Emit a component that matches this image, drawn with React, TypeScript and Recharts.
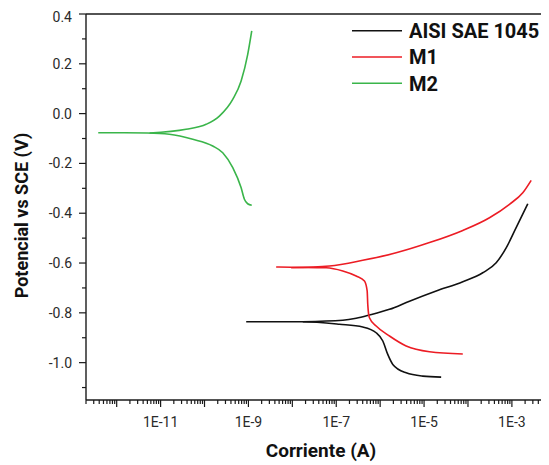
import React from 'react';
import { LineChart, Line, XAxis, YAxis, Legend, ReferenceLine } from 'recharts';

// ---- data: [current (A), potential (V vs SCE)] ----
const aisiCathodic: [number, number][] = [
  [8.9e-10, -0.836], [1.73e-8, -0.836], [1.18e-7, -0.846], [4.02e-7, -0.857], [8.11e-7, -0.880],
  [1.15e-6, -0.913], [1.49e-6, -0.967], [1.94e-6, -1.007], [3.91e-6, -1.041], [9.33e-6, -1.054], [2.45e-5, -1.058],
];
const aisiAnodic: [number, number][] = [
  [1.73e-8, -0.836], [1.41e-7, -0.830], [2.84e-7, -0.822], [5.7e-7, -0.809], [1.63e-6, -0.786],
  [4.66e-6, -0.753], [1.89e-5, -0.712], [7.62e-5, -0.675], [2.17e-4, -0.639], [4.39e-4, -0.599],
  [7.41e-4, -0.539], [1.25e-3, -0.458], [2.3e-3, -0.362],
];
const m1Cathodic: [number, number][] = [
  [4.28e-9, -0.616], [9.4e-9, -0.617], [5.9e-8, -0.619], [1.41e-7, -0.632], [2.84e-7, -0.652],
  [4.39e-7, -0.672], [5.06e-7, -0.712], [5.22e-7, -0.766], [5.7e-7, -0.820], [8.11e-7, -0.853],
  [1.63e-6, -0.893], [3.91e-6, -0.933], [1.33e-5, -0.956], [7.62e-5, -0.965],
];
const m1Anodic: [number, number][] = [
  [9.4e-9, -0.619], [7e-8, -0.612], [4.02e-7, -0.589], [2.31e-6, -0.559], [1.33e-5, -0.518],
  [7.62e-5, -0.469], [3.09e-4, -0.418], [8.81e-4, -0.364], [1.77e-3, -0.318], [2.75e-3, -0.268],
];
const m2Cathodic: [number, number][] = [
  [3.8e-13, -0.077], [1.5e-12, -0.077], [5e-12, -0.078], [1.58e-11, -0.083], [5.4e-11, -0.103],
  [1.54e-10, -0.130], [2.6e-10, -0.157], [4.4e-10, -0.217], [6.8e-10, -0.297], [8.1e-10, -0.344],
  [9.6e-10, -0.362], [1.19e-9, -0.368],
];
const m2Anodic: [number, number][] = [
  [5.6e-12, -0.078], [3.8e-11, -0.063], [1.09e-10, -0.043], [2.18e-10, -0.010], [4.39e-10, 0.057],
  [6.82e-10, 0.131], [9.64e-10, 0.238], [1.19e-9, 0.332],
];

const seriesNames = ['AISI SAE 1045', 'M1', 'M2'];
const seriesColors = ['#111111', '#ec1c24', '#3ab54a'];

// ---- axes ----
const xDomain: [number, number] = [2e-13, 7e-3];
const xDecadeExponents = [-13, -12, -11, -10, -9, -8, -7, -6, -5, -4, -3];
const xLabelledExponents = [-11, -9, -7, -5, -3];
const xTickLabels = ['1E-11', '1E-9', '1E-7', '1E-5', '1E-3'];
const yDomain: [number, number] = [-1.15, 0.4];
const yMajorTicks = [-1.0, -0.8, -0.6, -0.4, -0.2, 0.0, 0.2, 0.4];
const yMinorTicks = [-1.1, -0.9, -0.7, -0.5, -0.3, -0.1, 0.1, 0.3];

const FONT = 'Roboto, "Liberation Sans", sans-serif';
const AXIS = '#1a1a1a';

const toRows = (pts: [number, number][]) => pts.map(([i, e]) => ({ i, e }));

const xTicks: number[] = [];
xDecadeExponents.forEach((ex) => {
  for (let m = 1; m <= 9; m++) {
    const v = m * Math.pow(10, ex);
    if (v >= xDomain[0] * 0.999 && v <= xDomain[1]) xTicks.push(v);
  }
});
const yTicks = [...yMajorTicks, ...yMinorTicks].sort((a, b) => a - b);

const XTick = (props: any) => {
  const { x, y, payload } = props;
  const lg = Math.log10(payload.value);
  const isMajor = Math.abs(lg - Math.round(lg)) < 1e-6;
  const idx = isMajor ? xLabelledExponents.indexOf(Math.round(lg)) : -1;
  return (
    <g>
      <line x1={x} y1={y} x2={x} y2={y + (isMajor ? 7 : 4)} stroke={AXIS} strokeWidth={1.2} />
      {idx >= 0 && (
        <text x={x} y={y + 27} textAnchor="middle" fontSize={14} fill="#2a2a2a" fontFamily={FONT}>
          {xTickLabels[idx]}
        </text>
      )}
    </g>
  );
};

const YTick = (props: any) => {
  const { x, y, payload } = props;
  const isMajor = yMajorTicks.some((t) => Math.abs(t - payload.value) < 1e-9);
  return (
    <g>
      <line x1={x - (isMajor ? 7 : 4)} y1={y} x2={x} y2={y} stroke={AXIS} strokeWidth={1.2} />
      {isMajor && (
        <text x={x - 14} y={Math.max(y + 5, 14)} textAnchor="end" fontSize={14} fill="#2a2a2a" fontFamily={FONT}>
          {payload.value.toFixed(1)}
        </text>
      )}
    </g>
  );
};

const LegendBox = () => (
  <svg width={541} height={100} style={{ overflow: 'visible', display: 'block' }}>
    {seriesNames.map((name, k) => {
      const cy = 22.7 + k * 26.3;
      return (
        <g key={name}>
          <line x1={344} x2={394} y1={cy} y2={cy} stroke={seriesColors[k]} strokeWidth={1.6} />
          <text x={401} y={cy + 7.3} fontSize={20} fontWeight="bold" fill="#111" fontFamily={FONT}>
            {name}
          </text>
        </g>
      );
    })}
  </svg>
);

const branches = [
  { data: aisiCathodic, s: 0 }, { data: aisiAnodic, s: 0 },
  { data: m1Cathodic, s: 1 }, { data: m1Anodic, s: 1 },
  { data: m2Cathodic, s: 2 }, { data: m2Anodic, s: 2 },
];

export default function App() {
  return (
    <LineChart
      width={541}
      height={457}
      margin={{ top: 6, right: 0, bottom: 0, left: 0 }}
      style={{ overflow: 'visible' }}
    >
      <XAxis
        dataKey="i"
        type="number"
        scale="log"
        domain={xDomain}
        allowDataOverflow
        ticks={xTicks}
        interval={0}
        tick={<XTick />}
        tickLine={false}
        tickSize={0}
        tickMargin={0}
        height={65}
        axisLine={{ stroke: AXIS, strokeWidth: 1.4 }}
        label={{
          content: () => (
            <text x={313} y={449} textAnchor="middle" fontSize={19} fontWeight="bold" fill="#111" fontFamily={FONT}>
              Corriente (A)
            </text>
          ),
        }}
      />
      <YAxis
        dataKey="e"
        type="number"
        domain={yDomain}
        allowDataOverflow
        ticks={yTicks}
        interval={0}
        tick={<YTick />}
        tickLine={false}
        tickSize={0}
        tickMargin={0}
        width={78}
        axisLine={{ stroke: AXIS, strokeWidth: 1.4 }}
        label={{
          content: () => (
            <text
              x={20}
              y={207.5}
              transform="rotate(-90, 20, 207.5)"
              textAnchor="middle"
              fontSize={18}
              fontWeight="bold"
              fill="#111"
              fontFamily={FONT}
            >
              Potencial vs SCE (V)
            </text>
          ),
        }}
      />
      <ReferenceLine y={0.4} stroke={AXIS} strokeWidth={1.4} />
      {branches.map((b, k) => (
        <Line
          key={k}
          data={toRows(b.data)}
          dataKey="e"
          type="monotone"
          stroke={seriesColors[b.s]}
          strokeWidth={1.6}
          dot={false}
          activeDot={false}
          isAnimationActive={false}
          legendType="none"
        />
      ))}
      <Legend
        layout="horizontal"
        verticalAlign="middle"
        align="center"
        wrapperStyle={{ position: 'absolute', left: 0, top: 0, width: 541, height: 100 }}
        content={() => <LegendBox />}
      />
    </LineChart>
  );
}
